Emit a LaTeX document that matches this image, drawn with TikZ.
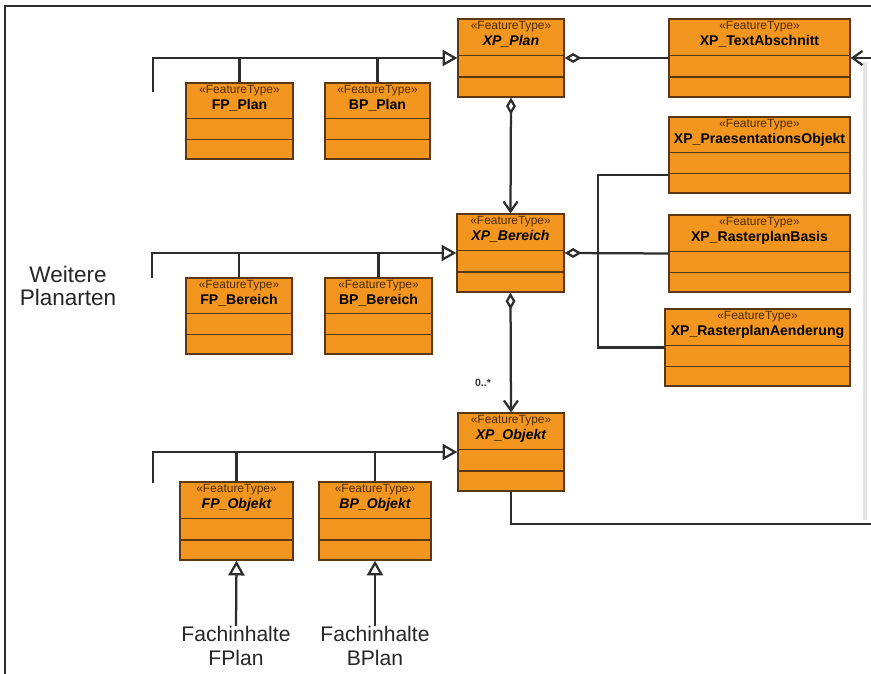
\documentclass[tikz,border=0pt]{standalone}
\usepackage{fontspec}
\setmainfont{Liberation Sans}
\usepackage{xcolor}
\usepackage{tikz}
\usetikzlibrary{positioning}
\usetikzlibrary{arrows.meta,calc}
\definecolor{umlfill}{RGB}{242,150,32}
\definecolor{umlline}{RGB}{92,56,18}
\definecolor{umltext}{RGB}{80,45,10}
\definecolor{conline}{RGB}{45,45,45}
\tikzstyle{classbox}=[rectangle,draw=umlline,fill=umlfill,line width=1pt,inner sep=0pt]
\tikzstyle{classtitle}=[anchor=north,align=center,inner sep=0pt,font=\fontsize{10}{11.5}\selectfont\bfseries]
\tikzstyle{divider}=[draw=umlline,line width=0.9pt]
\tikzstyle{undirectededge}=[draw=conline,line width=1.6pt]
\tikzstyle{gen}=[undirectededge,-{Triangle[open,length=10.5pt,width=11.5pt]}]
\tikzstyle{agg}=[undirectededge,{Diamond[open,length=12pt,width=7pt]}-]
\tikzstyle{aggnav}=[undirectededge,{Diamond[open,length=12pt,width=7pt]}-{Straight Barb[length=7pt,width=10pt]}]
\tikzstyle{nav}=[undirectededge,-{Straight Barb[length=7pt,width=10pt]}]
\tikzstyle{bigtext}=[align=center,inner sep=0pt,text=black!85,font=\fontsize{16}{16.5}\selectfont]
\newcommand{\ftype}{{\fontsize{8.5}{9.5}\selectfont\mdseries\color{umltext}«FeatureType»}}

\begin{document}
\begin{tikzpicture}[x=0.025cm,y=-0.025cm]
\useasboundingbox (0,0) rectangle (871,674);

% frame
\draw[conline,line width=1.2pt] (5,674) -- (5,6) -- (871,6);
\draw[black!10,line width=2.5pt] (865,62) -- (865,520);

% classes
\foreach \pos/\name/\w/\h/\title in {
    {(511,58)/XPPlan/106/78/{\itshape XP\_Plan}},
    {(759.5,58)/XPText/181/78/{XP\_TextAbschnitt}},
    {(239.5,121)/FPPlan/107/76/{FP\_Plan}},
    {(377.5,121)/BPPlan/105/76/{BP\_Plan}},
    {(759.5,155)/XPPraes/181/76/{XP\_PraesentationsObjekt}},
    {(510.5,253)/XPBereich/107/78/{\itshape XP\_Bereich}},
    {(759.5,253.5)/XPRBasis/181/77/{XP\_RasterplanBasis}},
    {(239,316)/FPBereich/106/76/{FP\_Bereich}},
    {(378.5,316)/BPBereich/107/76/{BP\_Bereich}},
    {(757.5,347.5)/XPRAend/185/77/{XP\_RasterplanAenderung}},
    {(511,452)/XPObjekt/106/78/{\itshape XP\_Objekt}},
    {(236.5,521)/FPObjekt/113/78/{\itshape FP\_Objekt}},
    {(375,521)/BPObjekt/112/78/{\itshape BP\_Objekt}}}
{
    \node[classbox,minimum width=\w*0.025cm,minimum height=\h*0.025cm] (\name) at \pos {};
    \node[classtitle] (\name-t) at ($(\name.north)+(0,3)$) {\ftype\\\title};
    \foreach \f in {0.47,0.74}
        \draw[divider] ($(\name.north west)!\f!(\name.south west)$) -- ($(\name.north east)!\f!(\name.south east)$);
}

% texts
\node[bigtext] (weitere) at (68,286) {Weitere\\Planarten};
\node[bigtext,anchor=north,font=\fontsize{15}{17}\selectfont] (fachF) at (236,626) {Fachinhalte\\FPlan};
\node[bigtext,anchor=north,font=\fontsize{15}{17}\selectfont] (fachB) at (375,626) {Fachinhalte\\BPlan};
\node[inner sep=0pt,text=black!80,font=\fontsize{7.5}{9}\selectfont\bfseries] (mult) at (483,383) {0..*};

% generalization, layer 1
\coordinate (g1) at (153,92);
\draw[gen] (g1) |- (XPPlan.west);
\foreach \source in {FPPlan,BPPlan}
    \draw[undirectededge] (\source.north) -- (\source.north |- XPPlan.west);
% layer 2
\coordinate (g2) at (152,278);
\draw[gen] (g2) |- (XPBereich.west);
\foreach \source in {FPBereich,BPBereich}
    \draw[undirectededge] (\source.north) -- (\source.north |- XPBereich.west);
% layer 3
\coordinate (g3) at (153,483);
\draw[gen] (g3) |- (XPObjekt.west);
\foreach \source in {FPObjekt,BPObjekt}
    \draw[undirectededge] (\source.north) -- (\source.north |- XPObjekt.west);
\draw[gen] (fachF.north) -- (FPObjekt.south);
\draw[gen] (fachB.north) -- (BPObjekt.south);

% aggregation
\draw[agg] (XPPlan.east) -- (XPText.west);
\draw[aggnav] (XPPlan.south) -- (XPBereich.north);
\draw[aggnav] (XPBereich.south) -- (XPObjekt.north);
\draw[agg] (XPBereich.east) -- (XPRBasis.west);
\coordinate (bus) at (598,253);
\draw[undirectededge] ($(XPPraes.south west)+(0,-19)$) -| (bus) |- (XPRAend.west);

% right side, leaving the picture
\coordinate (rt) at (871,58);
\coordinate (rb) at (871,524);
\draw[nav] (rt) -- (XPText.east);
\draw[undirectededge] (XPObjekt.south) |- (rb);

\end{tikzpicture}
\end{document}
